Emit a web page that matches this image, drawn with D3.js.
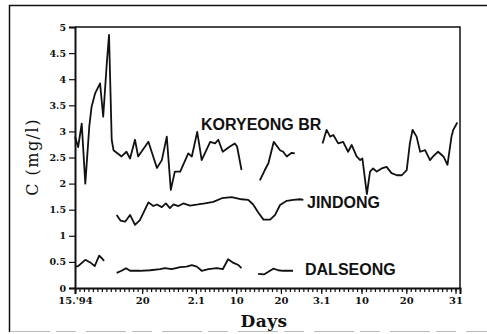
<!DOCTYPE html>
<html>
<head>
<meta charset="utf-8">
<script src="https://cdn.jsdelivr.net/npm/d3@7"></script>
<style>
    body { margin: 0; background: #fff; }
</style>
</head>
<body>
<div id="chart"></div>
<script>
// days counted from 5 Jan 1994, null = no sample
const koryeongDays = [0, 0.7, 1.5, 2.3, 3.2, 3.7, 4.5, 5.6, 6.3, 7.1, 7.6, 8.2, 8.6, 10.4, 11.5, 12.3, 13.4, 14.1, 16.4, 18.3, 19.4, 20.5, 21.4, 22.3, 23.5, 25.3, 26.1, 27.3, 28.3, 30.2, 31.3, 32.0, 33.0, 34.6, 35.7, 36.2, 37.2, 39,
    41.3, 42.4, 43.2, 44.4, 45.8, 46.5, 47.3, 48.4, 49.1, 52,
    55.3, 56.2, 57.0, 57.7, 58.8, 59.9, 61.0, 61.8, 62.9, 63.7, 64.2, 65.2, 65.9, 66.6, 67.4, 68.5, 69.6, 70.7, 71.9, 73.0, 74.1, 74.8, 75.4, 76.3, 77.1, 78.2, 79.3, 80.0, 81.1, 82.3, 83.2, 84.1, 84.5, 85.4]
const koryeongValues = [2.9, 2.7, 3.15, 2.0, 3.1, 3.47, 3.73, 3.92, 3.28, 4.3, 4.85, 2.84, 2.64, 2.52, 2.61, 2.48, 2.84, 2.52, 2.8, 2.3, 2.45, 2.9, 1.88, 2.23, 2.23, 2.58, 2.52, 2.99, 2.45, 2.8, 2.77, 2.84, 2.61, 2.71, 2.77, 2.71, 2.26, null,
    2.06, 2.26, 2.39, 2.8, 2.64, 2.61, 2.52, 2.59, 2.58, null,
    2.77, 3.03, 2.9, 2.93, 2.77, 2.8, 2.61, 2.74, 2.52, 2.45, 2.48, 1.8, 2.23, 2.29, 2.23, 2.29, 2.32, 2.2, 2.16, 2.16, 2.26, 2.77, 3.03, 2.9, 2.61, 2.64, 2.45, 2.52, 2.61, 2.52, 2.36, 2.9, 3.03, 3.17]

const jindongDays = [9.3, 10.2, 11.2, 12.3, 13.4, 14.5, 16.4, 17.5, 18.3, 19.4, 20.3, 21.2, 22.0, 23.1, 24.2, 25.7, 27.5, 29.0, 30.9, 32.8, 35.0, 37.2, 38.7, 39.8, 40.9, 42.1, 43.6, 44.7, 45.8, 47.3, 48.8, 50.3, 51.0]
const jindongValues = [1.40, 1.29, 1.27, 1.40, 1.21, 1.30, 1.64, 1.57, 1.60, 1.55, 1.62, 1.53, 1.60, 1.57, 1.62, 1.58, 1.60, 1.62, 1.65, 1.72, 1.74, 1.70, 1.69, 1.60, 1.45, 1.31, 1.31, 1.40, 1.59, 1.67, 1.69, 1.70, 1.69]

const dalseongDays = [0, 0.7, 2.3, 3.4, 4.4, 5.4, 6.0, 6.5, 8,
    9.3, 10.4, 11.4, 12.3, 14.5, 16.8, 19.0, 20.1, 21.6, 23.5, 24.9, 26.1, 27.2, 28.3, 29.8, 31.7, 33.0, 34.2, 35.4, 36.5, 37.2, 39,
    40.9, 42.2, 43.2, 44.3, 45.4, 46.5, 48.7]
const dalseongValues = [0.41, 0.42, 0.54, 0.49, 0.42, 0.62, 0.57, 0.52, null,
    0.29, 0.33, 0.38, 0.33, 0.33, 0.34, 0.36, 0.38, 0.36, 0.40, 0.41, 0.44, 0.41, 0.33, 0.36, 0.38, 0.36, 0.55, 0.48, 0.44, 0.38, null,
    0.27, 0.26, 0.31, 0.37, 0.34, 0.33, 0.33]

const xTickDays = [0, 15, 27, 36, 46, 55, 64, 74, 85]
const xTickLabels = ["15.'94", '20', '2.1', '10', '20', '3.1', '10', '20', '31']
const yTicks = [0, 0.5, 1, 1.5, 2, 2.5, 3, 3.5, 4, 4.5, 5]

let width = 487
let height = 334
let margin = { top: 27, right: 27, bottom: 46, left: 75 },
    plotWidth = width - margin.left - margin.right,
    plotHeight = height - margin.top - margin.bottom

let svg = d3
    .select('#chart')
    .append('svg')
    .attr('width', width)
    .attr('height', height)

// scanned page frame
svg.append('path')
    .attr('d', 'M9.5,332 L9.5,5.5 L487,5.5')
    .attr('fill', 'none')
    .attr('stroke', '#111')
    .attr('stroke-width', 1.5)
svg.append('line')
    .attr('x1', 10).attr('x2', 487)
    .attr('y1', 331.5).attr('y2', 331.5)
    .attr('stroke', '#bbb')
    .attr('stroke-dasharray', '40,6,20,10')

let g = svg.append('g').attr('transform', 'translate(' + margin.left + ',' + margin.top + ')')

let x = d3.scaleLinear().domain([0, 86]).range([0, plotWidth])
let y = d3.scaleLinear().domain([0, 5]).range([plotHeight, 0])

// top and right edge of the plot box
g.append('path')
    .attr('d', 'M0,0 H' + plotWidth + ' V' + plotHeight)
    .attr('fill', 'none')
    .attr('stroke', '#111')
    .attr('stroke-width', 1.5)

// x axis: daily minor ticks
g.append('g')
    .attr('transform', 'translate(0,' + plotHeight + ')')
    .call(d3.axisBottom(x).tickValues(d3.range(0, 87)).tickSize(4).tickFormat(''))
    .call(a => a.select('.domain').remove())
    .selectAll('line').attr('stroke', '#111').attr('stroke-width', 1.2)

let xAxis = g.append('g')
    .attr('transform', 'translate(0,' + plotHeight + ')')
    .call(d3.axisBottom(x).tickValues(xTickDays).tickSize(6).tickPadding(3)
        .tickFormat((d, i) => xTickLabels[i]))
xAxis.select('.domain').attr('stroke', '#111').attr('stroke-width', 2)
xAxis.selectAll('line').attr('stroke', '#111').attr('stroke-width', 1.2)
xAxis.selectAll('text')
    .attr('font-family', 'DejaVu Serif, serif')
    .attr('font-weight', 'bold')
    .attr('font-size', '10px')
    .attr('fill', '#111')

let yAxis = g.append('g')
    .call(d3.axisLeft(y).tickValues(yTicks).tickSize(6).tickPadding(3).tickFormat(d3.format('')))
yAxis.select('.domain').attr('stroke', '#111').attr('stroke-width', 2)
yAxis.selectAll('line').attr('stroke', '#111').attr('stroke-width', 1.2)
yAxis.selectAll('text')
    .attr('font-family', 'DejaVu Serif, serif')
    .attr('font-weight', 'bold')
    .attr('font-size', '9.5px')
    .attr('fill', '#111')

// axis titles
svg.append('text')
    .attr('transform', 'translate(38,157) rotate(-90)')
    .attr('text-anchor', 'middle')
    .attr('font-family', 'DejaVu Serif, serif')
    .attr('font-size', '16px')
    .attr('letter-spacing', '1.5px')
    .attr('fill', '#111')
    .text('C (mg/l)')
svg.append('text')
    .attr('x', 264)
    .attr('y', 327)
    .attr('text-anchor', 'middle')
    .attr('font-family', 'DejaVu Serif, serif')
    .attr('font-weight', 'bold')
    .attr('font-size', '17px')
    .attr('letter-spacing', '0.5px')
    .attr('fill', '#111')
    .text('Days')

let series = [
    { name: 'KORYEONG BR', days: koryeongDays, values: koryeongValues, lx: 201, ly: 130 },
    { name: 'JINDONG', days: jindongDays, values: jindongValues, lx: 307, ly: 208 },
    { name: 'DALSEONG', days: dalseongDays, values: dalseongValues, lx: 305, ly: 275 },
]

let line = d3.line()
    .defined(d => d.v != null)
    .x(d => x(d.day))
    .y(d => y(d.v))

series.forEach(function (s) {
    let pts = s.days.map((day, i) => ({ day: day, v: s.values[i] }))
    g.append('path')
        .datum(pts)
        .attr('d', line)
        .attr('fill', 'none')
        .attr('stroke', '#111')
        .attr('stroke-width', 1.8)
        .attr('stroke-linejoin', 'round')

    svg.append('text')
        .attr('x', s.lx)
        .attr('y', s.ly)
        .attr('font-family', 'Liberation Sans, Arial, sans-serif')
        .attr('font-weight', 'bold')
        .attr('font-size', '16px')
        .attr('fill', '#111')
        .text(s.name)
})
</script>
</body>
</html>
